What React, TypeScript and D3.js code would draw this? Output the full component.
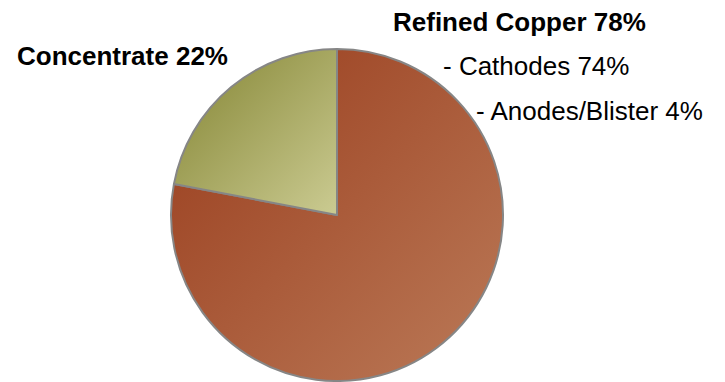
import React from "react";
import * as d3 from "d3";

const categories = ["Refined Copper", "Concentrate"];
const values = [78, 22];
const subCategories = ["Cathodes", "Anodes/Blister"];
const subValues = [74, 4];

const W = 725;
const H = 382;
const cx = 337;
const cy = 215;
const R = 166;

const gradients = [
  { id: "gRef", from: "#993c1c", to: "#bb7a58" },
  { id: "gCon", from: "#838432", to: "#cbcb92" },
];

export default function App() {
  const pie = d3.pie<number>().sort(null).value((d) => d)(values);
  const arc = d3.arc<d3.PieArcDatum<number>>().innerRadius(0).outerRadius(R);
  const font = "'Liberation Sans', Arial, sans-serif";
  return (
    <svg
      width={W}
      height={H}
      style={{ position: "absolute", left: 0, top: 0, background: "#fff" }}
    >
      <defs>
        {gradients.map((g) => (
          <linearGradient key={g.id} id={g.id} x1="0" y1="0" x2="1" y2="1">
            <stop offset="0" stopColor={g.from} />
            <stop offset="1" stopColor={g.to} />
          </linearGradient>
        ))}
      </defs>
      <g transform={`translate(${cx},${cy})`}>
        {pie.map((p, i) => (
          <path
            key={i}
            d={arc(p) || ""}
            fill={`url(#${gradients[i].id})`}
            stroke="#868686"
            strokeWidth={2}
            strokeLinejoin="round"
          />
        ))}
      </g>
      <g fontFamily={font} fontSize={26} fill="#000">
        <text x={393} y={31} fontWeight="bold">
          {`${categories[0]} ${values[0]}%`}
        </text>
        <text x={17} y={65} fontWeight="bold">
          {`${categories[1]} ${values[1]}%`}
        </text>
        <text x={443} y={75}>{`- ${subCategories[0]} ${subValues[0]}%`}</text>
        <text x={476} y={120}>{`- ${subCategories[1]} ${subValues[1]}%`}</text>
      </g>
    </svg>
  );
}
